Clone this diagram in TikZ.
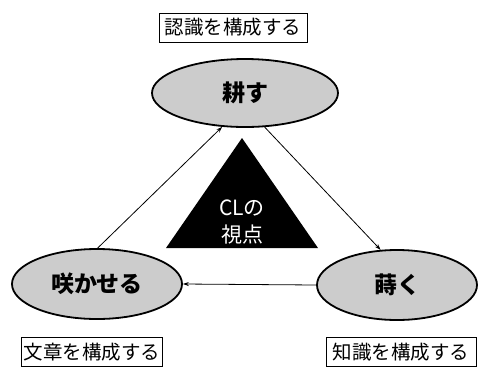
\documentclass[tikz,border=0pt]{standalone}
\usepackage{fontspec}
\setmainfont{Noto Sans CJK JP}
\usetikzlibrary{shapes.geometric,arrows.meta}
\tikzset{
  oval/.style={ellipse,draw=black,line width=1.8pt,fill=black!20,inner sep=0pt,font=\fontsize{23}{26}\selectfont\bfseries},
  label box/.style={draw=black,line width=1pt,inner sep=2pt,minimum height=29pt,font=\fontsize{19.5}{22}\selectfont},
  tri text/.style={text=white,inner sep=1pt,font=\fontsize{21}{24}\selectfont},
  conn/.style={line width=0.8pt,-{Stealth[length=6pt,width=4pt]}}
}
\begin{document}
\begin{tikzpicture}[x=1pt,y=-1pt]
\clip (0,0) rectangle (480,368);
\fill[white] (0,0) rectangle (480,368);
% triangle
\coordinate (ta) at (242,138);
\coordinate (tl) at (166,248);
\coordinate (tr) at (318,248);
\fill[black] (ta) -- (tl) -- (tr) -- cycle;
\node[tri text] (cl) at (242,208) {CLの};
\node[tri text] (vp) at (242,235) {視点};
% ellipses
\node[oval,minimum width=186pt,minimum height=68pt] (T) at (245,93) {耕す};
\node[oval,minimum width=170pt,minimum height=70pt] (L) at (97,284) {咲かせる};
\node[oval,minimum width=160pt,minimum height=70pt] (R) at (397,285) {蒔く};
% boxes
\node[label box,minimum width=148pt] (bt) at (233,27.5) {認識を構成する};
\node[label box,minimum width=140pt] (bl) at (92,352) {文章を構成する};
\node[label box,minimum width=150pt] (br) at (401,352) {知識を構成する};
% arrows
\draw[conn] (L.89) -- (T.236);
\draw[conn] (T.300) -- (R.115);
\draw[conn] (R.west) -- (L.east);
\end{tikzpicture}
\end{document}
